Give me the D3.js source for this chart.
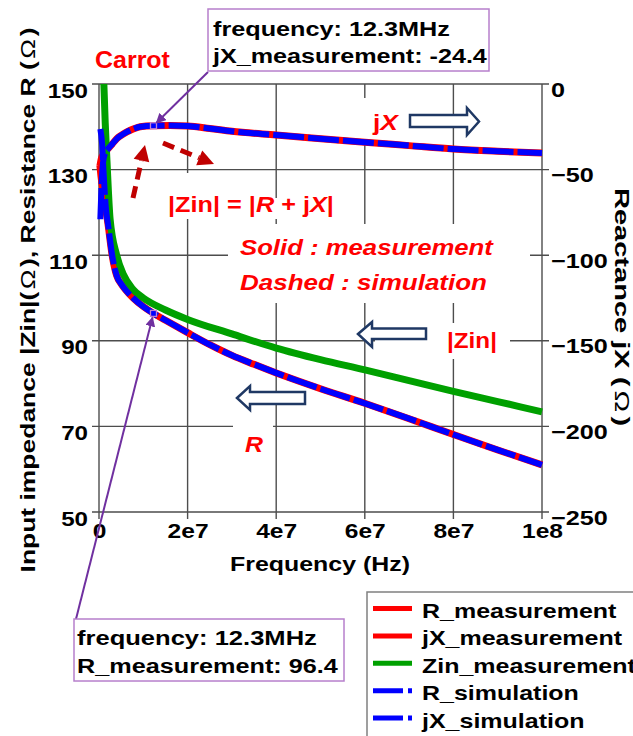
<!DOCTYPE html>
<html><head><meta charset="utf-8">
<script src="https://cdn.jsdelivr.net/npm/d3@7"></script>
<style>
body{margin:0;background:#fff}
svg{display:block}
text{font-family:"Liberation Sans",Arial,sans-serif;font-weight:bold}
</style>
</head><body>
<svg id="c" width="633" height="736"></svg>
<script>
// ---------------- data ----------------
const xTicks = [0, 2e7, 4e7, 6e7, 8e7, 1e8];
const xTickLabels = ["0", "2e7", "4e7", "6e7", "8e7", "1e8"];
const leftTicks = [50, 70, 90, 110, 130, 150];
const rightTicks = [-250, -200, -150, -100, -50, 0];

const fRmeas = [2e5,5e5,1e6,1.5e6,2e6,3e6,4e6,5e6,6e6,7.7e6,1e7,1.23e7,1.5e7,2e7,2.5e7,3e7,3.5e7,4e7,4.5e7,5e7,6e7,7e7,8e7,9e7,1e8];
const Rmeas  = [131,128,124.5,121,117.5,109.8,105.2,103.3,101.9,100,98,96.4,94.8,91.9,89.1,86.6,84.5,82.5,80.6,78.8,75.4,71.8,68.1,64.5,61];

const fRsim = [3e5,7e5,1e6,1.3e6,1.6e6,2e6,3e6,4e6,5e6,6e6,7.7e6,1e7,1.23e7,1.5e7,2e7,2.5e7,3e7,3.5e7,4e7,4.5e7,5e7,6e7,7e7,8e7,9e7,1e8];
const Rsim  = [139.5,136,130,124.5,120.5,117.5,109.8,105.2,103.3,101.9,100,98,96.4,94.8,91.9,89.1,86.6,84.5,82.5,80.6,78.8,75.4,71.8,68.1,64.5,61];

const fXmeas = [2e5,6e5,1e6,2e6,3e6,4e6,5e6,6.3e6,8e6,9.3e6,1.23e7,1.6e7,2e7,2.5e7,3e7,4e7,4.8e7,6e7,7e7,8e7,9e7,1e8];
const Xmeas  = [-48,-43,-41,-38,-35,-32,-30,-28,-26,-25,-24.4,-24.3,-24.6,-26,-27.6,-29.8,-31.5,-34,-36,-38,-39.3,-40.3];

const fXsim = [3e5,6e5,9e5,1.3e6,2e6,3e6,4e6,5e6,6.3e6,8e6,9.3e6,1.23e7,1.6e7,2e7,2.5e7,3e7,4e7,4.8e7,6e7,7e7,8e7,9e7,1e8];
const Xsim  = [-79,-58,-46,-41,-38,-35,-32,-30,-28,-26,-25,-24.4,-24.3,-24.6,-26,-27.6,-29.8,-31.5,-34,-36,-38,-39.3,-40.3];

const fZin = [1.1e6,1.4e6,1.8e6,2.5e6,4e6,5.5e6,7.7e6,1e7,1.5e7,2e7,3e7,4e7,5e7,6e7,7e7,8e7,9e7,1e8];
const Zin  = [150,141,132,118.5,110,105.5,102,100,97.2,95,91.6,88.3,85.6,83.2,80.7,78.2,75.8,73.4];

const legendLabels = ["R_measurement","jX_measurement","Zin_measurement","R_simulation","jX_simulation"];
const legendColors = ["#ff0000","#ff0000","#00a000","#0000ff","#0000ff"];
const legendDashed = [false,false,false,true,true];

const markerFreq = 1.23e7, markerX = -24.4, markerR = 96.4;

// ---------------- setup ----------------
const svg = d3.select("#c");
const L = 99, Rr = 542, T0 = 84, B = 512;
const x = d3.scaleLinear().domain([0, 1e8]).range([L, Rr]);
const yL = d3.scaleLinear().domain([50, 150]).range([B, T0]);
const yR = d3.scaleLinear().domain([-250, 0]).range([B, T0]);

svg.append("rect").attr("width",633).attr("height",736).attr("fill","#fff");

function T(sel, px, py, s, o) {
  o = o || {};
  const g = sel.append("g");
  const t = g.append("text").attr("font-size", o.size || 21)
    .attr("fill", o.fill || "#000").attr("text-anchor", o.anchor || "start");
  if (o.italic) t.attr("font-style", "italic");
  if (o.weight) t.attr("font-weight", o.weight);
  if (Array.isArray(s)) {
    s.forEach(p => {
      const ts = t.append("tspan").text(p.t);
      if (p.i) ts.attr("font-style", "italic");
      if (p.w) ts.attr("font-weight", p.w);
      if (p.dx) ts.attr("dx", p.dx);
    });
  } else t.text(s);
  let sx = o.sx || 1;
  if (o.w) sx = o.w / t.node().getComputedTextLength();
  g.attr("transform", `translate(${px},${py}) rotate(${o.rot || 0}) scale(${sx},1)`);
  return g;
}

// ---------------- grid ----------------
const gridC = "#4d4d4d";
svg.append("g").selectAll("line").data(leftTicks).join("line")
  .attr("x1", 92).attr("x2", 549).attr("y1", d => yL(d)).attr("y2", d => yL(d))
  .attr("stroke", gridC).attr("stroke-width", 1.4);
svg.append("g").selectAll("line").data(xTicks).join("line")
  .attr("x1", d => x(d)).attr("x2", d => x(d)).attr("y1", T0).attr("y2", 519)
  .attr("stroke", gridC).attr("stroke-width", 1.4);

// white boxes behind annotations (break the grid like the original)
[[160,173,40,46],[160,198,180,21],[228,224,302,79],[355,98,50,42],[375,323,135,36],[233,414,40,46]]
  .forEach(r => svg.append("rect").attr("x",r[0]).attr("y",r[1]).attr("width",r[2]).attr("height",r[3]).attr("fill","#fff"));

// ---------------- axes labels via d3 axes ----------------
const axL = svg.append("g").attr("transform", `translate(${L},0)`)
  .call(d3.axisLeft(yL).tickValues(leftTicks).tickSize(0));
axL.select(".domain").remove();
axL.selectAll("text").attr("x", null).attr("dy", null).attr("font-size", 21)
  .attr("font-family", '"Liberation Sans",Arial,sans-serif').attr("font-weight","bold").attr("fill","#000")
  .attr("transform", "translate(-11,13) scale(1.15,1)");

const axR = svg.append("g").attr("transform", `translate(${Rr},0)`)
  .call(d3.axisRight(yR).tickValues(rightTicks).tickSize(0));
axR.select(".domain").remove();
axR.selectAll("text").attr("x", null).attr("dy", null).attr("font-size", 21)
  .attr("font-family", '"Liberation Sans",Arial,sans-serif').attr("font-weight","bold").attr("fill","#000")
  .attr("transform", "translate(9,12) scale(1.2,1)");

const axB = svg.append("g").attr("transform", `translate(0,${B})`)
  .call(d3.axisBottom(x).tickValues(xTicks).tickFormat((d,i) => xTickLabels[i]).tickSize(0));
axB.select(".domain").remove();
axB.selectAll("text").attr("y", null).attr("dy", null).attr("font-size", 21)
  .attr("font-family", '"Liberation Sans",Arial,sans-serif').attr("font-weight","bold").attr("fill","#000")
  .attr("transform", "translate(0,26) scale(1.17,1)");

// axis titles
T(svg, 320, 571, "Frequency (Hz)", {anchor:"middle", w:180});
T(svg, 35, 300, ["Input impedance |Zin|(", {t:"Ω", w:"normal", dx:2}, {t:")", dx:2}, ", Resistance R (", {t:"Ω", w:"normal", dx:2}, {t:")", dx:2}].map(p => typeof p === "string" ? {t:p} : p),
  {anchor:"middle", rot:-90, w:535});
T(svg, 615, 307, [{t:"Reactance jX ("}, {t:"Ω", w:"normal", dx:3}, {t:")", dx:3}], {anchor:"middle", rot:90, w:230});

// ---------------- curves ----------------
const lineL = d3.line().x(d => x(d[0])).y(d => yL(d[1])).curve(d3.curveMonotoneX);
const lineR = d3.line().x(d => x(d[0])).y(d => yR(d[1])).curve(d3.curveMonotoneX);
const zip = (a, b) => a.map((v, i) => [v, b[i]]);

svg.append("path").attr("d", lineL(zip(fRmeas, Rmeas))).attr("fill","none").attr("stroke","#ff0000").attr("stroke-width",7);
svg.append("path").attr("d", lineR(zip(fXmeas, Xmeas))).attr("fill","none").attr("stroke","#ff0000").attr("stroke-width",7);
svg.append("path").attr("d", lineL(zip(fZin, Zin))).attr("fill","none").attr("stroke","#00a000").attr("stroke-width",7);
svg.append("path").attr("d", lineL(zip(fRsim, Rsim))).attr("fill","none").attr("stroke","#0000ff").attr("stroke-width",6).attr("stroke-dasharray","31,4");
svg.append("path").attr("d", lineR(zip(fXsim, Xsim))).attr("fill","none").attr("stroke","#0000ff").attr("stroke-width",6).attr("stroke-dasharray","31,4");

// ---------------- data markers + callouts ----------------
const defs = svg.append("defs");
defs.append("marker").attr("id","pa").attr("viewBox","0 0 10 10").attr("refX",9).attr("refY",5)
  .attr("markerWidth",5).attr("markerHeight",5).attr("orient","auto-start-reverse")
  .append("path").attr("d","M0,0 L10,5 L0,10 Z").attr("fill","#7030a0");

const mx = x(markerFreq), myX = yR(markerX), myR = yL(markerR);
svg.append("rect").attr("x", mx-3).attr("y", myX-3).attr("width",6).attr("height",6).attr("fill","none").attr("stroke","#c080d0").attr("stroke-width",1.3);
svg.append("rect").attr("x", mx-3).attr("y", myR-3).attr("width",6).attr("height",6).attr("fill","none").attr("stroke","#c080d0").attr("stroke-width",1.3);
svg.append("line").attr("x1",208).attr("y1",72).attr("x2",mx+3).attr("y2",myX-3)
  .attr("stroke","#7030a0").attr("stroke-width",2).attr("marker-end","url(#pa)");
svg.append("line").attr("x1",76).attr("y1",619).attr("x2",mx-1).attr("y2",myR+4)
  .attr("stroke","#7030a0").attr("stroke-width",2).attr("marker-end","url(#pa)");

// ---------------- dashed dark-red arrows ----------------
function dashArrow(x1, y1, x2, y2) {
  const ang = Math.atan2(y2 - y1, x2 - x1), hl = 16, hw = 8;
  const bx = x2 - hl * Math.cos(ang), by = y2 - hl * Math.sin(ang);
  svg.append("line").attr("x1",x1).attr("y1",y1).attr("x2",bx).attr("y2",by)
    .attr("stroke","#c00000").attr("stroke-width",5).attr("stroke-dasharray","12,7");
  const px = -Math.sin(ang) * hw, py = Math.cos(ang) * hw;
  svg.append("path").attr("d",`M${x2},${y2} L${bx+px},${by+py} L${bx-px},${by-py} Z`).attr("fill","#c00000");
}
dashArrow(133, 198, 145, 145);
dashArrow(163, 143, 214, 164);

// ---------------- hollow block arrows ----------------
const navy = "#1f3864";
[
  "M410,115 L467,115 L467,108 L479,121.5 L467,135 L467,127 L410,127 Z",
  "M358,334 L372,322 L372,328.5 L426,328.5 L426,339 L372,339 L372,347 Z",
  "M237,398 L250,386 L250,392 L305,392 L305,404 L250,404 L250,410 Z"
].forEach(d => svg.append("path").attr("d", d).attr("fill","#fff").attr("stroke",navy).attr("stroke-width",2.5));

// ---------------- red annotation texts ----------------
const red = "#ff0000";
T(svg, 95, 68, "Carrot", {fill:red, size:23, w:75});
T(svg, 168, 212, [{t:"|Zin| = |"}, {t:"R", i:true}, {t:" + j"}, {t:"X", i:true}, {t:"|"}], {fill:red, size:22, w:166});
T(svg, 240, 255, "Solid : measurement", {fill:red, size:22, italic:true, w:253});
T(svg, 240, 290, "Dashed : simulation", {fill:red, size:22, italic:true, w:247});
T(svg, 373, 130, [{t:"j"}, {t:"X", i:true}], {fill:red, size:22, w:25});
T(svg, 447, 348, "|Zin|", {fill:red, size:22, w:50});
T(svg, 245, 452, "R", {fill:red, size:22, italic:true, w:18});

// ---------------- callout boxes ----------------
svg.append("rect").attr("x",208).attr("y",9).attr("width",281).attr("height",62).attr("fill","#fff").attr("stroke","#b77fcc").attr("stroke-width",1.5);
T(svg, 213, 36, "frequency: 12.3MHz", {w:237});
T(svg, 213, 63, "jX_measurement: -24.4", {w:274});

svg.append("rect").attr("x",74).attr("y",619).attr("width",270).attr("height",62).attr("fill","#fff").attr("stroke","#b77fcc").attr("stroke-width",1.5);
T(svg, 77, 645, "frequency: 12.3MHz", {w:240});
T(svg, 77, 673, "R_measurement: 96.4", {w:261});

// ---------------- legend ----------------
const lg = svg.append("g");
lg.append("rect").attr("x",367).attr("y",592).attr("width",300).attr("height",170).attr("fill","#fff").attr("stroke","#808080").attr("stroke-width",1.5);
legendLabels.forEach((lab, i) => {
  const by = 618 + i * 27.4, sy = by - 9.5;
  if (legendDashed[i]) {
    lg.append("line").attr("x1",373).attr("x2",412).attr("y1",sy).attr("y2",sy)
      .attr("stroke",legendColors[i]).attr("stroke-width",5).attr("stroke-dasharray","30,5,4,40");
  } else {
    lg.append("line").attr("x1",373).attr("x2",412).attr("y1",sy).attr("y2",sy)
      .attr("stroke",legendColors[i]).attr("stroke-width",5);
  }
  T(lg, 422, by, lab, {sx:1.19});
});
</script>
</body></html>
